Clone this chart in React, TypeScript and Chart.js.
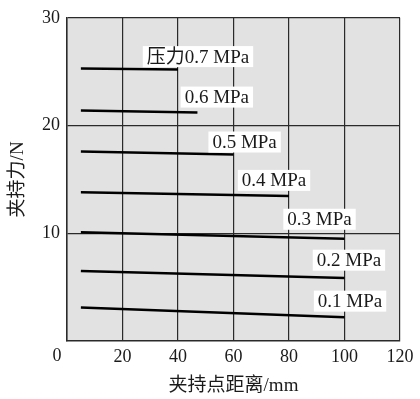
import React, { useEffect, useRef } from "react";
import { Chart, registerables } from "chart.js";

Chart.register(...registerables);

const pressures = ["0.7", "0.6", "0.5", "0.4", "0.3", "0.2", "0.1"];
const startX = [5, 5, 5, 5, 5, 5, 5];
const endX = [40, 47, 60, 80, 100, 100, 100];
const startY = [25.3, 21.4, 17.6, 13.8, 10.1, 6.5, 3.1];
const endY = [25.2, 21.2, 17.3, 13.45, 9.5, 5.85, 2.2];
const labelTexts = ["压力0.7 MPa", "0.6 MPa", "0.5 MPa", "0.4 MPa", "0.3 MPa", "0.2 MPa", "0.1 MPa"];
const labelX = [47.2, 54.0, 64.0, 74.6, 91.0, 101.6, 102.0];
const labelY = [26.4, 22.64, 18.47, 14.91, 11.3, 7.5, 3.7];
const xTicks = [0, 20, 40, 60, 80, 100, 120];
const yTicks = [10, 20, 30];

const FONT = "'Liberation Serif', 'Noto Sans CJK SC', serif";

const bgPlugin = {
  id: "plotBg",
  beforeDraw(chart: any) {
    const { ctx, chartArea } = chart;
    ctx.save();
    ctx.fillStyle = "#e2e2e2";
    ctx.fillRect(chartArea.left, chartArea.top, chartArea.right - chartArea.left, chartArea.bottom - chartArea.top);
    ctx.restore();
  },
};

const labelPlugin = {
  id: "pressureLabels",
  afterDatasetsDraw(chart: any) {
    const { ctx, scales } = chart;
    ctx.save();
    ctx.font = `19px ${FONT}`;
    ctx.textAlign = "center";
    ctx.textBaseline = "middle";
    labelTexts.forEach((t, i) => {
      const cx = scales.x.getPixelForValue(labelX[i]);
      const cy = scales.y.getPixelForValue(labelY[i]);
      const w = ctx.measureText(t).width + 8;
      const h = 21;
      ctx.fillStyle = "#ffffff";
      ctx.fillRect(cx - w / 2, cy - h / 2, w, h);
      ctx.fillStyle = "#1a1a1a";
      ctx.fillText(t, cx, cy + 1);
    });
    // origin label "0" shared at the corner
    ctx.textAlign = "center";
    ctx.textBaseline = "top";
    ctx.font = `18px ${FONT}`;
    ctx.fillText("0", scales.x.getPixelForValue(0) - 10, scales.y.bottom + 6);
    ctx.restore();
  },
};

export default function App() {
  const ref = useRef<HTMLCanvasElement>(null);
  useEffect(() => {
    document.body.style.margin = "0";
    const datasets = pressures.map((p, i) => ({
      label: p,
      data: [
        { x: startX[i], y: startY[i] },
        { x: endX[i], y: endY[i] },
      ],
      showLine: true,
      borderColor: "#000000",
      borderWidth: 2.5,
      pointRadius: 0,
      fill: false,
    }));
    const chart = new Chart(ref.current as HTMLCanvasElement, {
      type: "scatter",
      data: { datasets },
      plugins: [bgPlugin, labelPlugin],
      options: {
        animation: false,
        responsive: false,
        maintainAspectRatio: false,
        layout: { padding: { left: 0, right: 20, top: 13, bottom: 0 } },
        plugins: { legend: { display: false }, tooltip: { enabled: false } },
        scales: {
          x: {
            type: "linear",
            min: 0,
            max: 120,
            afterBuildTicks(scale: any) {
              scale.ticks = xTicks.map((v) => ({ value: v }));
            },
            afterFit(scale: any) {
              scale.height = 58;
            },
            ticks: {
              color: "#1a1a1a",
              font: { family: FONT, size: 18 },
              padding: 5,
              callback: (v: any) => (v === 0 ? "" : String(v)),
              maxRotation: 0,
            },
            grid: { color: "#2a2a2a", lineWidth: 1.2, drawTicks: false },
            border: { color: "#2a2a2a", width: 1.5 },
            title: {
              display: true,
              text: "夹持点距离/mm",
              color: "#1a1a1a",
              font: { family: FONT, size: 19 },
              padding: { top: 2, bottom: 2 },
            },
          },
          y: {
            type: "linear",
            min: 0,
            max: 30,
            afterBuildTicks(scale: any) {
              scale.ticks = yTicks.map((v) => ({ value: v }));
            },
            afterFit(scale: any) {
              scale.width = 67;
            },
            ticks: {
              color: "#1a1a1a",
              font: { family: FONT, size: 18 },
              padding: 7,
            },
            grid: { color: "#2a2a2a", lineWidth: 1.2, drawTicks: false },
            border: { color: "#2a2a2a", width: 1.5 },
            title: {
              display: true,
              text: "夹持力/N",
              color: "#1a1a1a",
              font: { family: FONT, size: 19 },
              padding: { top: 7, bottom: 0 },
            },
          },
        },
      },
    });
    return () => chart.destroy();
  }, []);
  return (
    <div style={{ width: 420, height: 399, background: "#ffffff" }}>
      <canvas ref={ref} width={420} height={399} />
    </div>
  );
}
